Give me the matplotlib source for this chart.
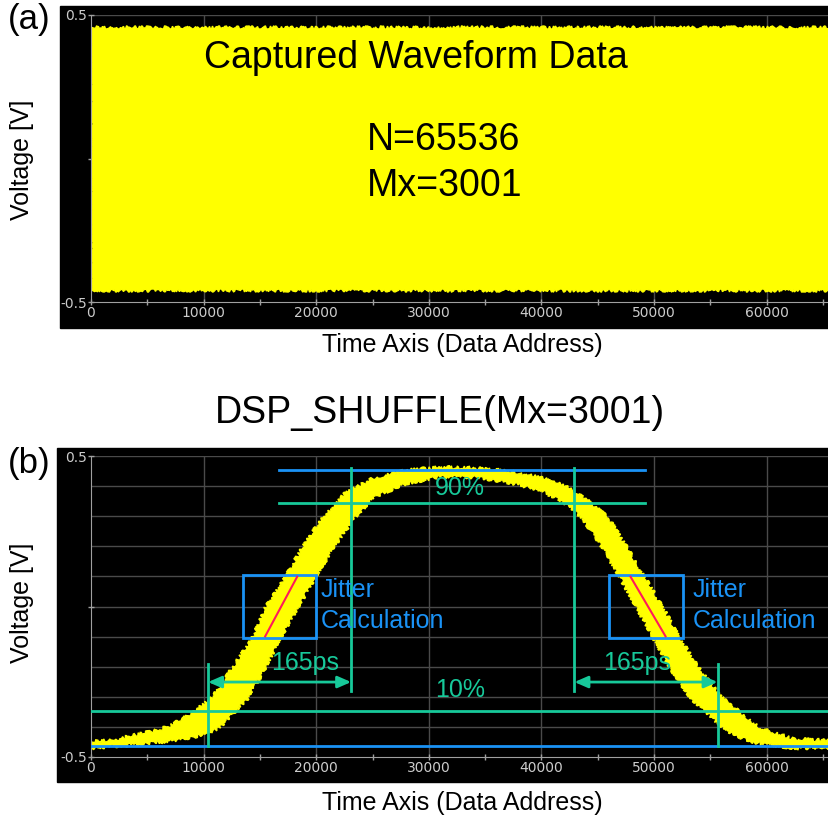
import numpy as np
import matplotlib
matplotlib.use('Agg')
import matplotlib.pyplot as plt
from matplotlib.patches import Rectangle

plt.rcParams['font.family'] = ['Liberation Sans', 'DejaVu Sans']

# ---- (a) captured waveform envelope
cap_x = [0, 65536]
cap_top = [0.458, 0.458]
cap_bot = [-0.458, -0.458]

# ---- (b) shuffled waveform band, upper and lower edges
up_x = [0, 2400, 4800, 6840, 8800, 10760, 12530, 14310, 15470, 17240, 18760,
        20530, 22580, 25070, 28090, 31020, 33960, 36980, 39910, 42130, 44100,
        45900, 47600, 49200, 50800, 52300, 54000, 56000, 59470, 62400, 65536]
up_v = [-0.450, -0.440, -0.420, -0.400, -0.356, -0.303, -0.206, -0.105, -0.005,
        0.095, 0.196, 0.296, 0.376, 0.426, 0.453, 0.463, 0.460, 0.450, 0.430,
        0.400, 0.353, 0.296, 0.196, 0.095, -0.005, -0.105, -0.206, -0.303,
        -0.406, -0.440, -0.446]
lo_x = [0, 2400, 4800, 7200, 9510, 11290, 13960, 15470, 16800, 18310, 19910,
        21510, 23470, 25070, 28090, 31020, 33960, 36980, 39910, 41690, 43600,
        45400, 47000, 48500, 49960, 51470, 53240, 56180, 57960, 59470, 62400, 65536]
lo_v = [-0.470, -0.463, -0.456, -0.446, -0.430, -0.406, -0.303, -0.206, -0.105,
        -0.005, 0.095, 0.196, 0.296, 0.363, 0.410, 0.430, 0.430, 0.413, 0.386,
        0.353, 0.296, 0.196, 0.095, -0.005, -0.105, -0.206, -0.303, -0.406,
        -0.440, -0.456, -0.470, -0.470]

# reference levels
lev_top = 0.453
lev_90 = 0.343
lev_10 = -0.346
lev_bot = -0.463
t90 = [23100, 42930]
t10 = [10400, 55640]
jit_x = [(13510, 20000), (46040, 52530)]
jit_v = 0.105
red_x = [(15470, 18310), (47910, 51020)]
red_v = [(-0.099, 0.099), (0.099, -0.099)]

BLUE = '#1a92f5'
GREEN = '#17c99a'
YELLOW = '#ffff00'
TICKC = '#cccccc'

W, H = 829, 815
fig = plt.figure(figsize=(W / 100, H / 100), dpi=100)
fig.patch.set_facecolor('white')

def fx(px):
    return px / W

def fy(py):
    return 1 - py / H

# black screenshot frames
fig.patches.append(Rectangle((fx(60), fy(328)), 1 - fx(60), fy(6) - fy(328),
                             transform=fig.transFigure, color='black', zorder=-5))
fig.patches.append(Rectangle((fx(57), fy(782)), 1 - fx(57), fy(448) - fy(782),
                             transform=fig.transFigure, color='black', zorder=-5))

ax_a = fig.add_axes([fx(91), fy(302), 1 - fx(91), fy(15) - fy(302)])
ax_b = fig.add_axes([fx(91), fy(757), 1 - fx(91), fy(456) - fy(757)])

for ax in (ax_a, ax_b):
    ax.set_facecolor('black')
    ax.set_xlim(0, 65536)
    ax.set_ylim(-0.5, 0.5)
    ax.set_axisbelow(True)
    ax.set_xticks(np.arange(0, 65001, 5000))
    ax.set_xticklabels([str(v) if v % 10000 == 0 else '' for v in range(0, 65001, 5000)])
    ax.set_yticks([-0.5, 0, 0.5])
    ax.set_yticklabels(['-0.5', '', '0.5'])
    for t in ax.get_xticklabels() + ax.get_yticklabels():
        t.set_family('DejaVu Sans')
    ax.tick_params(colors='#a0a0a0', labelcolor=TICKC, labelsize=10, length=4,
                   width=1, direction='inout', pad=1)
    ax.tick_params(axis='y', pad=1)
    for s in ('top', 'right'):
        ax.spines[s].set_visible(False)
    for s in ('left', 'bottom'):
        ax.spines[s].set_color('#a0a0a0')
    for v in np.arange(-0.4, 0.51, 0.1):
        ax.axhline(v, color='#4a4a4a', lw=1, zorder=0.5)
    for v in range(10000, 65001, 10000):
        ax.axvline(v, color='#4a4a4a', lw=1, zorder=0.5)

# (a)
cap, = ax_a.fill(cap_x + cap_x[::-1], cap_top + cap_bot[::-1], color=YELLOW, lw=1, zorder=2)
cap.set_sketch_params(scale=1.5, length=3, randomness=16)
ax_a.text(28890, 0.35, 'Captured Waveform Data', fontsize=27, ha='center', va='center', zorder=3)
ax_a.text(24530, 0.064, 'N=65536', fontsize=27, ha='left', va='center', zorder=3)
ax_a.text(24530, -0.096, 'Mx=3001', fontsize=27, ha='left', va='center', zorder=3)

# (b)
band, = ax_b.fill(np.concatenate([up_x, lo_x[::-1]]), np.concatenate([up_v, lo_v[::-1]]),
                  color=YELLOW, lw=1, zorder=2)
band.set_sketch_params(scale=1.7, length=3, randomness=16)
ax_b.axhline(lev_bot, color=BLUE, lw=2, zorder=3)
ax_b.axhline(lev_10, color=GREEN, lw=2, zorder=3)
ax_b.plot([16710, 49240], [lev_top, lev_top], color=BLUE, lw=2, zorder=3)
ax_b.plot([16710, 49240], [lev_90, lev_90], color=GREEN, lw=2, zorder=3)
for x in t90:
    ax_b.plot([x, x], [0.46, -0.281], color=GREEN, lw=2, zorder=3)
for x in t10:
    ax_b.plot([x, x], [-0.191, lev_bot], color=GREEN, lw=2, zorder=3)
for a, b in ((t10[0], t90[0]), (t90[1], t10[1])):
    ax_b.annotate('', xy=(b, -0.251), xytext=(a, -0.251),
                  arrowprops=dict(arrowstyle='<|-|>,head_length=0.8,head_width=0.35',
                                  color=GREEN, lw=2, shrinkA=0, shrinkB=0), zorder=3)
for (x0, x1) in jit_x:
    ax_b.add_patch(Rectangle((x0, -jit_v), x1 - x0, 2 * jit_v, fill=False,
                             ec=BLUE, lw=2, zorder=4))
for xs, vs in zip(red_x, red_v):
    ax_b.plot(xs, vs, color='#ff1a5a', lw=1.5, zorder=4)

ax_b.text(32800, 0.394, '90%', color=GREEN, fontsize=18, ha='center', va='center', zorder=5)
ax_b.text(32800, -0.277, '10%', color=GREEN, fontsize=18, ha='center', va='center', zorder=5)
for x in (19020, 48530):
    ax_b.text(x, -0.188, '165ps', color=GREEN, fontsize=18, ha='center', va='center', zorder=5)
for x in (20360, 53420):
    ax_b.text(x, 0.055, 'Jitter', color=BLUE, fontsize=18, ha='left', va='center', zorder=5)
    ax_b.text(x, -0.048, 'Calculation', color=BLUE, fontsize=18, ha='left', va='center', zorder=5)

# labels around the panels
fig.text(fx(29), fy(20), '(a)', fontsize=25, ha='center', va='center')
fig.text(fx(29), fy(463), '(b)', fontsize=25, ha='center', va='center')
fig.text(fx(22), fy(160), 'Voltage [V]', fontsize=18, rotation=90, ha='center', va='center')
fig.text(fx(22), fy(603), 'Voltage [V]', fontsize=18, rotation=90, ha='center', va='center')
fig.text(fx(462), fy(345), 'Time Axis (Data Address)', fontsize=18, ha='center', va='center')
fig.text(fx(462), fy(803), 'Time Axis (Data Address)', fontsize=18, ha='center', va='center')
fig.text(fx(440), fy(413), 'DSP_SHUFFLE(Mx=3001)', fontsize=27, ha='center', va='center')

fig.savefig('out.png', dpi=100)
